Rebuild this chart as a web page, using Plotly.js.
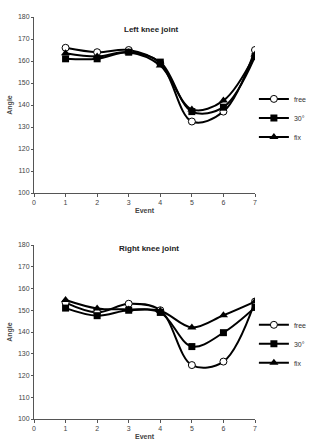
<!DOCTYPE html>
<html><head><meta charset="utf-8">
<script src="https://cdn.plot.ly/plotly-3.0.1.min.js"></script>
<style>body{margin:0;background:#fff}#c{width:310px;height:443px}</style>
</head><body><div id="c"></div>
<script>
const events = [1, 2, 3, 4, 5, 6, 7];
const seriesNames = ["free", "30°", "fix"];
const leftFree = [166, 164, 165, 159, 132.5, 137, 165];
const left30 = [161, 161, 164, 159.5, 137, 139, 162];
const leftFix = [163.5, 162, 164, 158, 138, 142, 163];
const rightFree = [153.5, 149, 153, 150, 124.8, 126.4, 154];
const right30 = [151, 147.5, 150, 149, 133.3, 139.7, 151.3];
const rightFix = [154.7, 150.8, 150.4, 149.8, 142.1, 147.7, 154];
const yTicks = [100, 110, 120, 130, 140, 150, 160, 170, 180];
const xTicks = [0, 1, 2, 3, 4, 5, 6, 7];

const markers = [
  {symbol: "circle", size: 7, color: "#fff", line: {width: 1, color: "#000"}},
  {symbol: "square", size: 7, color: "#000"},
  {symbol: "triangle-up", size: 8, color: "#000"}
];
const lineStyle = {color: "#000", width: 2, shape: "spline", smoothing: 1};
function tr(y, i, xa, ya, leg) {
  return {x: events, y: y, name: seriesNames[i], mode: "lines+markers", xaxis: xa, yaxis: ya,
    legend: leg, line: lineStyle, marker: markers[i]};
}
const data = [
  tr(leftFree, 0, "x", "y", "legend"), tr(left30, 1, "x", "y", "legend"), tr(leftFix, 2, "x", "y", "legend"),
  tr(rightFree, 0, "x2", "y2", "legend2"), tr(right30, 1, "x2", "y2", "legend2"), tr(rightFix, 2, "x2", "y2", "legend2")
];
const f = {family: "Liberation Sans, Arial, sans-serif", size: 7, color: "#444"};
function xax(anchor) {
  return {range: [0, 7], tickvals: xTicks, showgrid: false, zeroline: false, showline: true,
    linecolor: "#555", linewidth: 1, ticks: "outside", ticklen: 3, tickcolor: "#555", tickfont: f,
    anchor: anchor, automargin: false, title: {text: "<b>Event</b>", font: f, standoff: 2}};
}
function yax(domain, anchor) {
  return {range: [100, 180], tickvals: yTicks, domain: domain, showgrid: false, zeroline: false,
    showline: true, linecolor: "#555", linewidth: 1, ticks: "outside", ticklen: 2, tickcolor: "#555",
    tickfont: f, anchor: anchor, automargin: false, title: {text: "<b>Angle</b>", font: f, standoff: 4}};
}
const legFont = {family: "Liberation Sans, Arial, sans-serif", size: 7, color: "#333"};
const layout = {
  width: 310, height: 443, margin: {l: 34, r: 55, t: 17, b: 24, autoexpand: false},
  paper_bgcolor: "#fff", plot_bgcolor: "#fff", showlegend: true,
  xaxis: xax("y"), yaxis: yax([0.5622, 1], "x"),
  xaxis2: xax("y2"), yaxis2: yax([0, 0.4328], "x2"),
  legend: {x: 0.995, y: 0.749, xanchor: "left", yanchor: "middle", font: legFont, itemwidth: 30,
    tracegroupgap: 0, bgcolor: "rgba(0,0,0,0)"},
  legend2: {x: 0.995, y: 0.187, xanchor: "left", yanchor: "middle", font: legFont, itemwidth: 30,
    tracegroupgap: 0, bgcolor: "rgba(0,0,0,0)"},
  annotations: [
    {text: "<b>Left knee joint</b>", x: 0.53, y: 0.985, xref: "paper", yref: "paper", showarrow: false,
      font: {family: "Liberation Sans, Arial, sans-serif", size: 8, color: "#222"}},
    {text: "<b>Right knee joint</b>", x: 0.52, y: 0.425, xref: "paper", yref: "paper", showarrow: false,
      font: {family: "Liberation Sans, Arial, sans-serif", size: 8, color: "#222"}}
  ]
};
Plotly.newPlot("c", data, layout, {staticPlot: true});
</script></body></html>
